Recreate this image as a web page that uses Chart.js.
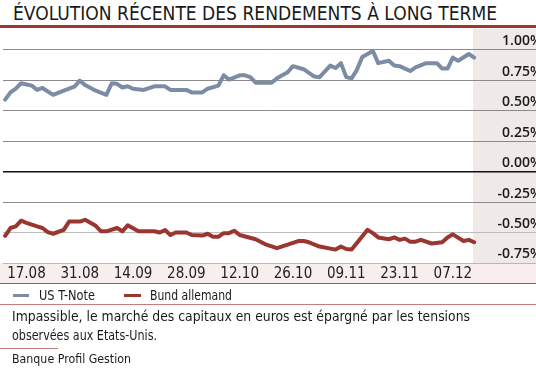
<!DOCTYPE html>
<html><head><meta charset="utf-8">
<script src="https://cdn.jsdelivr.net/npm/chart.js@4"></script>
<style>
html,body{margin:0;padding:0;background:#fff;width:536px;height:369px;overflow:hidden;}
body{position:relative;font-family:"Liberation Sans Narrow","DejaVu Sans Condensed",sans-serif;color:#1a1a1a;}
.t{position:absolute;white-space:nowrap;transform-origin:0 0;line-height:1.2;}
.r{position:absolute;}
#title{left:13px;top:2px;font-size:19px;}
#lg1{left:39px;top:287px;font-size:14px;}
#lg2{left:150px;top:287px;font-size:14px;}
#cap1{left:12px;top:308px;font-size:14px;}
#cap2{left:12px;top:327px;font-size:14px;}
#src{left:12px;top:352px;font-size:12px;}
#chartbox{position:absolute;left:0;top:29px;width:536px;height:255px;}
</style></head>
<body>
<div class="t" id="title" data-w="484">ÉVOLUTION RÉCENTE DES RENDEMENTS À LONG TERME</div>
<div class="r" style="left:0;top:25px;width:536px;height:3px;background:#a3352f;"></div>
<div id="chartbox"><canvas id="c" width="536" height="255"></canvas></div>
<div class="r" style="left:0;top:283px;width:536px;height:1px;background:#b5524c;"></div>
<div class="r" style="left:13px;top:294px;width:16px;height:3px;background:#7b8ca4;"></div>
<div class="t" id="lg1" data-w="56">US T-Note</div>
<div class="r" style="left:124px;top:294px;width:17px;height:3px;background:#9b3530;"></div>
<div class="t" id="lg2" data-w="82">Bund allemand</div>
<div class="r" style="left:0;top:304px;width:536px;height:1px;background:#c47e79;"></div>
<div class="t" id="cap1" data-w="458">Impassible, le marché des capitaux en euros est épargné par les tensions</div>
<div class="t" id="cap2" data-w="145">observées aux Etats-Unis.</div>
<div class="r" style="left:0;top:348px;width:58px;height:1px;background:#c47e79;"></div>
<div class="t" id="src" data-w="119">Banque Profil Gestion</div>
<script>
// Business-day index from 11.08.2015
const xTickDays = [4, 14, 24, 34, 44, 54, 64, 74, 84];
const xTickLabels = ['17.08', '31.08', '14.09', '28.09', '12.10', '26.10', '09.11', '23.11', '07.12'];
const yTicks = [-0.75, -0.5, -0.25, 0, 0.25, 0.5, 0.75, 1.0];

const usDays = [0,1,2,3,5,6,7,9,11,13,14,15,17,19,20,21,22,23,24,26,28,29,30,31,34,35,37,38,40,41,42,44,45,46,47,50,51,53,54,56,58,59,61,62,63,64,65,66,67,69,70,72,73,74,76,77,79,81,82,83,84,85,87,88];
const usNote = [0.59,0.65,0.68,0.725,0.705,0.67,0.686,0.63,0.664,0.697,0.746,0.71,0.664,0.63,0.725,0.72,0.69,0.70,0.68,0.67,0.70,0.70,0.70,0.67,0.67,0.65,0.65,0.68,0.705,0.79,0.755,0.79,0.79,0.775,0.73,0.73,0.765,0.815,0.865,0.84,0.78,0.775,0.87,0.85,0.89,0.775,0.765,0.835,0.94,0.99,0.89,0.91,0.87,0.865,0.825,0.855,0.89,0.89,0.845,0.845,0.935,0.91,0.965,0.935];

const bundDays = [0,1,2,3,4,6,7,8,9,11,12,14,15,17,18,19,21,22,23,25,28,29,30,31,32,34,35,37,38,39,40,41,42,43,44,47,49,51,53,55,56,57,59,62,63,64,65,66,68,69,70,72,73,74,75,76,77,78,80,82,83,84,86,87,88];
const bund = [-0.527,-0.463,-0.45,-0.403,-0.42,-0.45,-0.463,-0.497,-0.51,-0.478,-0.41,-0.41,-0.396,-0.445,-0.49,-0.49,-0.463,-0.49,-0.44,-0.49,-0.49,-0.50,-0.48,-0.52,-0.50,-0.50,-0.52,-0.525,-0.51,-0.535,-0.535,-0.505,-0.505,-0.485,-0.52,-0.555,-0.60,-0.628,-0.60,-0.57,-0.57,-0.58,-0.615,-0.64,-0.615,-0.635,-0.64,-0.585,-0.478,-0.505,-0.54,-0.555,-0.54,-0.56,-0.55,-0.575,-0.575,-0.56,-0.59,-0.58,-0.54,-0.515,-0.57,-0.56,-0.58];

// fit text widths
document.querySelectorAll('.t[data-w]').forEach(el => {
  const w = el.getBoundingClientRect().width;
  const target = +el.dataset.w;
  if (w > 0) el.style.transform = 'scaleX(' + (target / w) + ')';
});

const decor = {
  id: 'decor',
  beforeDraw(chart) {
    const {ctx, chartArea: a} = chart;
    ctx.save();
    ctx.fillStyle = '#efe9e7';
    ctx.fillRect(473, a.top, chart.width - 473, a.bottom - a.top);
    ctx.fillStyle = '#f8eeee';
    ctx.fillRect(0, a.bottom, chart.width, chart.height - a.bottom);
    ctx.restore();
  }
};

new Chart(document.getElementById('c'), {
  type: 'line',
  data: {
    datasets: [
      {label: 'US T-Note', data: usDays.map((d, i) => ({x: d, y: usNote[i]})),
       borderColor: '#7b8ca4', borderWidth: 4, pointRadius: 0, tension: 0, borderJoinStyle: 'round', borderCapStyle: 'round'},
      {label: 'Bund allemand', data: bundDays.map((d, i) => ({x: d, y: bund[i]})),
       borderColor: '#9b3530', borderWidth: 4, pointRadius: 0, tension: 0, borderJoinStyle: 'round', borderCapStyle: 'round'}
    ]
  },
  options: {
    responsive: false, animation: false, devicePixelRatio: 1,
    layout: {padding: {left: 3, right: 0, top: 0, bottom: 0}},
    plugins: {legend: {display: false}, tooltip: {enabled: false}},
    scales: {
      x: {
        type: 'linear', min: -0.4, max: 99.6,
        afterBuildTicks: s => { s.ticks = xTickDays.map(v => ({value: v})); },
        afterFit: s => { s.height = 21; },
        grid: {display: false, drawTicks: false}, border: {display: false},
        ticks: {autoSkip: false, maxRotation: 0, padding: 2, color: '#222',
          font: {family: '"Liberation Sans Narrow","DejaVu Sans Condensed",sans-serif', size: 15},
          callback: v => { const i = xTickDays.indexOf(v); return i >= 0 ? xTickLabels[i] : ''; }}
      },
      y: {
        position: 'right', min: -0.75, max: 1.17,
        afterBuildTicks: s => { s.ticks = yTicks.map(v => ({value: v})); },
        afterFit: s => { s.width = 0; s.paddingTop = 0; s.paddingBottom = 0; },
        border: {display: false},
        grid: {drawTicks: false, lineWidth: c => c.tick && c.tick.value === 0 ? 1.5 : 1,
          color: c => {
            const v = c.tick ? c.tick.value : null;
            if (v === 0) return '#111';
            if (v === -0.5) return '#bdbdbd';
            if (v === -0.75) return '#d6aaa7';
            return '#8a8a8a';
          }},
        ticks: {mirror: true, padding: 6, labelOffset: -8.5, color: '#1a1a1a',
          font: {family: '"Open Sans",sans-serif', size: 14, weight: '600'},
          callback: v => v.toFixed(2) + '%'}
      }
    }
  },
  plugins: [decor]
});
</script>
</body></html>
